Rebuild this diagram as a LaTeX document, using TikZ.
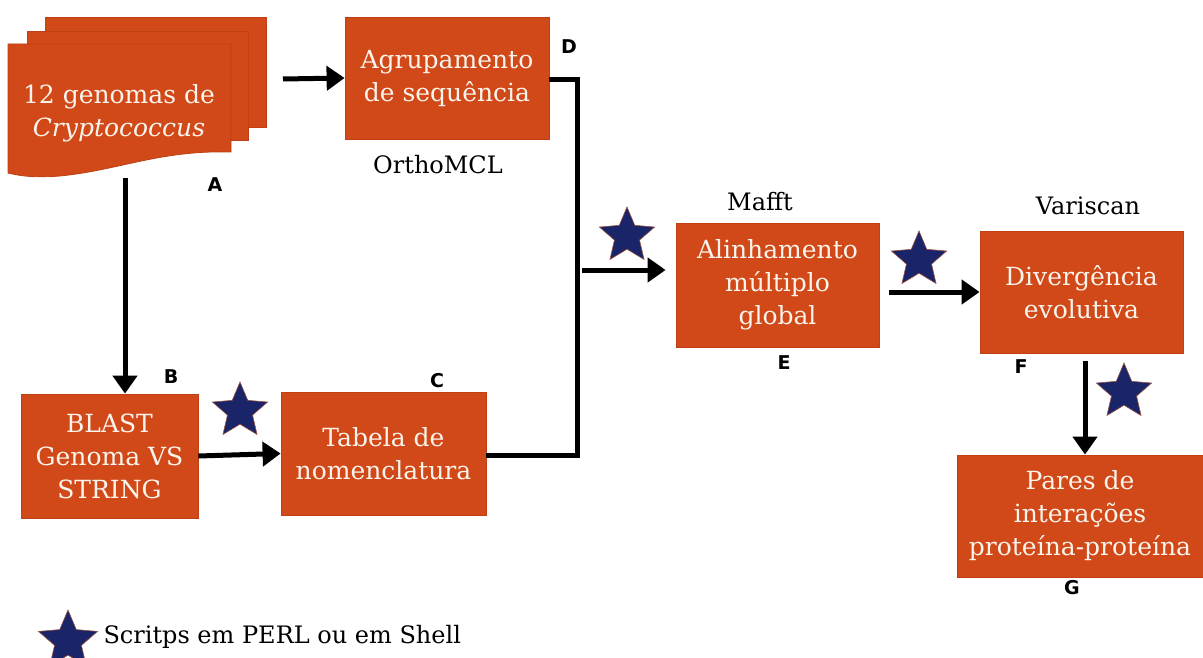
\documentclass[tikz,border=0pt]{standalone}
\usepackage{fontspec}
\setmainfont{DejaVu Serif}
\newfontfamily\labelfont{DejaVu Sans}
\usetikzlibrary{arrows.meta,shapes.geometric}
\definecolor{boxfill}{RGB}{209,73,24}
\definecolor{boxedge}{RGB}{190,64,20}
\definecolor{starfill}{RGB}{26,36,104}
\definecolor{staredge}{RGB}{150,80,60}
\definecolor{boxtext}{RGB}{250,244,236}
\tikzset{
  procbox/.style={draw=boxedge, line width=0.8pt, fill=boxfill, text=boxtext,
    align=center, inner sep=0pt, font=\fontsize{25}{33}\selectfont},
  tool/.style={font=\fontsize{24}{28}\selectfont, text=black},
  tag/.style={font=\labelfont\bfseries\fontsize{19}{21}\selectfont, text=black},
  flow/.style={line width=5pt, -{Triangle[length=18pt,width=24pt]}},
  link/.style={line width=5pt},
  script/.style={star, star points=5, star point ratio=2.2, minimum size=58pt,
    inner sep=0pt, fill=starfill, draw=staredge, line width=0.6pt},
  page/.style={fill=boxfill, draw=boxedge, line width=0.8pt}
}
\begin{document}
\begin{tikzpicture}[x=1pt,y=-1pt]
\useasboundingbox (0,0) rectangle (1203,658);
% stacked genome documents
\draw[page] (45,17) rectangle (266,127);
\draw[page] (27,31) rectangle (248,140);
\draw[page] (8,44) -- (231,44) -- (231,152)
  .. controls (160,150) and (120,170) .. (60,176)
  .. controls (35,178) and (20,176) .. (8,173) -- cycle;
\node[procbox, draw=none, fill=none] (genomes) at (119,113)
  {12 genomas de\\\textit{Cryptococcus}};
\coordinate (genS) at (125,178);
\coordinate (genE) at (283,79);

% process boxes
\node[procbox, minimum width=204pt, minimum height=122pt] (clust) at (447,78)
  {Agrupamento\\de sequência};
\node[procbox, minimum width=203pt, minimum height=124pt] (align) at (777.5,285)
  {Alinhamento\\múltiplo\\global};
\node[procbox, minimum width=203pt, minimum height=122pt] (diverg) at (1081.5,292)
  {Divergência\\evolutiva};
\node[procbox, minimum width=246pt, minimum height=122pt] (pairs) at (1080,516)
  {Pares de\\interações\\proteína-proteína};
\node[procbox, minimum width=177pt, minimum height=124pt] (blast) at (109.5,456)
  {BLAST\\Genoma VS\\STRING};
\node[procbox, minimum width=205pt, minimum height=123pt] (table) at (383.5,453.5)
  {Tabela de\\nomenclatura};

% tool names
\node[tool] (orthomcl) at (438,165) {OrthoMCL};
\node[tool] (mafft) at (760,202) {Mafft};
\node[tool] (variscan) at (1088,206) {Variscan};

% step letters
\node[tag] (tA) at (215,185) {A};
\node[tag] (tB) at (171,377) {B};
\node[tag] (tC) at (437,381) {C};
\node[tag] (tD) at (569,47) {D};
\node[tag] (tE) at (784,363) {E};
\node[tag] (tF) at (1021,367) {F};
\node[tag] (tG) at (1072,588) {G};

% script markers
\node[script] (s1) at (240,411) {};
\node[script] (s2) at (627,236) {};
\node[script] (s3) at (919,260) {};
\node[script] (s4) at (1124,392) {};

% connectors
\draw[flow] (genE) -- (clust.west);
\draw[flow] (genS) -- (genS |- blast.north);
\draw[flow] (blast.east) -- (table.west);
\coordinate (merge) at (577,270);
\draw[link] (clust.east |- 0,80) -| (merge |- 0,80) -- (merge |- 0,455) -- (table.east |- 0,455);
\draw[flow] ([xshift=5pt]merge) -- ([xshift=-10pt]align.west |- merge);
\draw[flow] ([xshift=10pt]align.east |- 0,292) -- (diverg.west |- 0,292);
\draw[flow] ([yshift=-8pt]diverg.south -| 1085,0) -- (1085,0 |- pairs.north);

% legend
\node[script, minimum size=62pt] (legstar) at (68,641) {};
\node[anchor=west, font=\fontsize{24}{28}\selectfont] (legtext) at (100,637)
  {Scritps em PERL ou em Shell};
\end{tikzpicture}
\end{document}
